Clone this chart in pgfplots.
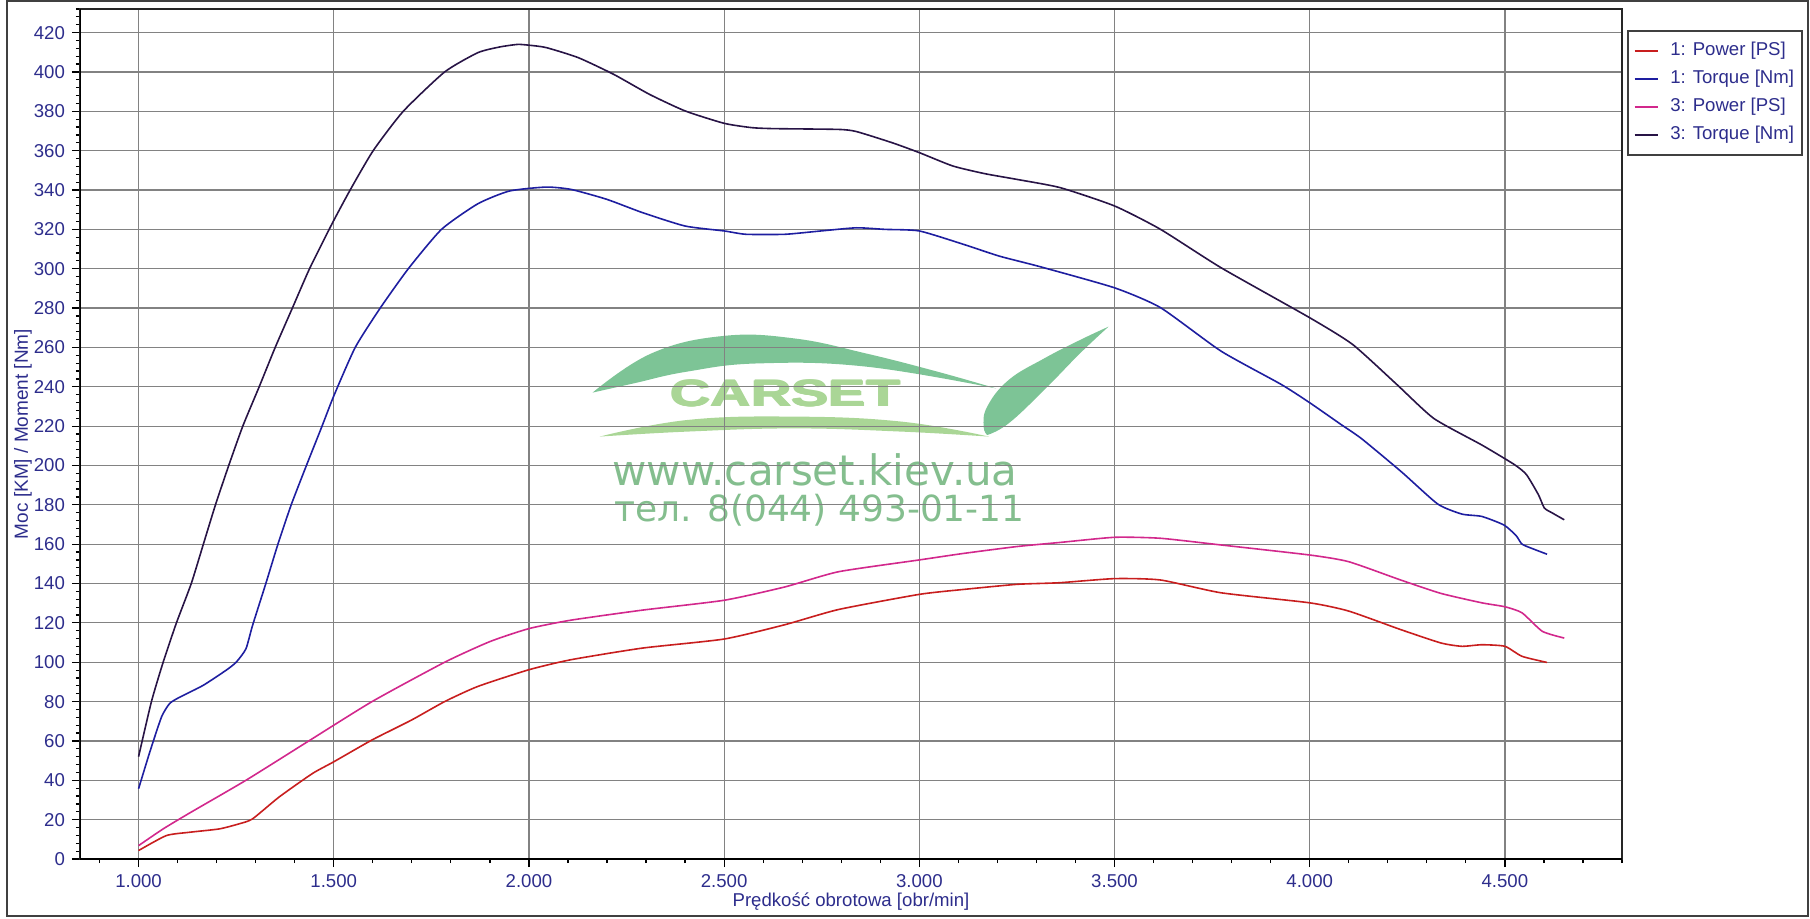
\documentclass[border=0pt]{standalone}
\usepackage{fontspec}
\setmainfont{Liberation Sans}
\newfontfamily\wmfont{DejaVu Sans}
\usepackage{pgfplots}
\pgfplotsset{compat=1.18}

\definecolor{labelblue}{RGB}{45,45,140}
\definecolor{gridgray}{RGB}{130,130,130}
\definecolor{powone}{RGB}{200,30,30}
\definecolor{torone}{RGB}{30,30,160}
\definecolor{powthree}{RGB}{210,40,140}
\definecolor{torthree}{RGB}{40,20,70}
\definecolor{wmgreen}{RGB}{125,196,150}
\definecolor{wmlight}{RGB}{170,214,150}
\definecolor{wmtext}{RGB}{132,190,142}

\begin{document}
\begin{tikzpicture}
% page size and outer frame
\path (-40pt,-29.5pt) rectangle (865pt,429.5pt);
\draw[black!75, line width=0.8pt] (-36.5pt,-28.5pt) rectangle (864pt,429pt);

% watermark, under the grid
\begin{scope}[x=1pt, y=1pt]
\fill[wmgreen] plot[smooth, tension=0.7] coordinates {(256.3,233.2) (285.7,252.8) (321.4,261.5) (357.1,260.3) (392.9,252.8) (428.6,243.7) (458,235.3)}
  -- plot[smooth, tension=0.7] coordinates {(458,235.3) (392.9,246.2) (339.3,247.8) (303.6,243.7) (276.8,237.8) (256.3,233.2)} -- cycle;
\fill[wmgreen] plot[smooth, tension=0.7] coordinates {(453.6,212) (464.3,217.8) (482.1,234.5) (500,252.8) (514.3,266.2)}
  -- plot[smooth, tension=0.7] coordinates {(514.3,266.2) (500,259.5) (482.1,250.3) (464.3,239.5) (453.6,226.2) (451.8,216.2) (453.6,212)} -- cycle;
\fill[wmlight] plot[smooth, tension=0.7] coordinates {(259.8,211.2) (303.6,219.5) (357.1,221.2) (410.7,218.7) (454.5,211.2)}
  -- plot[smooth, tension=0.7] coordinates {(454.5,211.2) (410.7,213.7) (357.1,215.3) (303.6,213.7) (259.8,211.2)} -- cycle;
\foreach \dx/\dy in {-0.5/0, 0.5/0, 0/0.4, 0/-0.4, 0/0}
  \node[anchor=base, xscale=1.5, text=wmlight, font=\fontsize{18.6}{20}\selectfont\bfseries, inner sep=0] at (352.7+\dx,226.5+\dy) {CARSET};
\node[anchor=base, text=wmtext, font=\wmfont\fontsize{21}{24}\selectfont, inner sep=0] at (367.5,187) {www.carset.kiev.ua};
\node[anchor=base, text=wmtext, font=\wmfont\fontsize{18}{21}\selectfont, inner sep=0] at (369.8,169) {тел. 8(044) 493-01-11};
\end{scope}

\begin{axis}[
  at={(0pt,0pt)}, anchor=south west,
  scale only axis, width=771pt, height=425pt,
  xmin=850, xmax=4800, ymin=0, ymax=432,
  xtick={1000,1500,...,4500},
  xticklabels={1.000,1.500,2.000,2.500,3.000,3.500,4.000,4.500},
  minor xtick={900,1000,...,4800},
  ytick={0,20,...,420},
  minor ytick={0,4,...,432},
  tick pos=left, tick align=outside,
  major tick length=4pt, minor tick length=2pt,
  tick style={black, line width=0.6pt},
  grid=major,
  major grid style={gridgray, line width=0.6pt},
  axis line style={black!85, line width=0.8pt},
  /pgf/number format/assume math mode=true,
  ticklabel style={font=\fontsize{9.3}{11}\selectfont, text=labelblue},
  xlabel={Prędkość obrotowa [obr/min]},
  ylabel={Moc [KM] / Moment [Nm]},
  xlabel style={at={(axis description cs:0.5,-0.0506)}, anchor=center, font=\fontsize{9.3}{11}\selectfont, text=labelblue},
  ylabel style={at={(axis description cs:-0.0370,0.5)}, anchor=center, font=\fontsize{9.5}{11}\selectfont, text=labelblue},
  legend style={at={(axis description cs:1.0032,0.9753)}, anchor=north west,
    draw=black!75, line width=0.8pt, fill=white,
    inner xsep=3pt, inner ysep=4.5pt, row sep=3pt,
    nodes={inner sep=1pt, text height=7pt, text depth=2pt, text=labelblue, font=\fontsize{9.3}{11}\selectfont},
    /tikz/every odd column/.append style={column sep=5pt}},
  legend cell align=left,
  legend image code/.code={\draw[#1] (0pt,0pt) -- (11.5pt,0pt);},
  every axis plot/.append style={line width=0.8pt, line join=round, smooth, tension=0.35},
]

\addplot[powone] coordinates {
(1000,4.3) (1071,11.9) (1131,13.6) (1207,15.3) (1258,17.9) (1292,20.4) (1360,31.5)
(1445,43.4) (1500,49.4) (1598,60.5) (1699,70.6) (1784,80) (1869,87.7) (2000,96.2)
(2108,101.3) (2291,107.2) (2500,111.8) (2656,119.1) (2793,126.8) (3000,134.5)
(3113,137) (3250,139.6) (3358,140.4) (3500,142.5) (3618,141.8) (3773,135.3)
(4000,130.2) (4100,126) (4233,116.6) (4336,109.8) (4390,108.1) (4441,108.9)
(4500,108.1) (4544,103) (4608,99.9)
};
\addlegendentry{1: Power [PS]}

\addplot[torone] coordinates {
(1000,35.7) (1029,54.5) (1059,72.3) (1080,79.1) (1105,82.2) (1165,88.2) (1224,95.9)
(1250,100) (1275,106.8) (1292,118.7) (1326,140) (1357,160) (1391,180) (1430,200)
(1470,220) (1500,235.3) (1555,260) (1619,280) (1691,300) (1776,320) (1869,333)
(1950,339.5) (2044,341.5) (2108,340.3) (2199,335.3) (2291,328.5) (2400,321.7)
(2500,319.2) (2556,317.5) (2656,317.5) (2748,319.2) (2839,320.8) (2912,320)
(3000,319.2) (3113,312.4) (3205,306.4) (3310,301) (3500,290.3) (3618,280.2)
(3773,258.1) (3927,241.2) (4000,231.9) (4079,221) (4133,213.6) (4236,196.6)
(4328,180.4) (4390,175.3) (4441,174.1) (4498,169.7) (4529,164.3) (4544,160)
(4575,157.4) (4608,154.9)
};
\addlegendentry{1: Torque [Nm]}

\addplot[powthree] coordinates {
(1000,6.8) (1063,15.3) (1131,23.4) (1275,40) (1436,60) (1598,80) (1784,100)
(1900,110.5) (2000,117.1) (2108,121.4) (2291,126.5) (2500,131.5) (2656,138.3)
(2793,146) (3000,152) (3113,155.3) (3250,158.8) (3361,160.9) (3500,163.5)
(3618,163) (3773,159.6) (4000,154.5) (4100,151.1) (4233,141.8) (4336,135)
(4441,130.2) (4500,128.2) (4544,125.1) (4596,115.7) (4652,112.3)
};
\addlegendentry{3: Power [PS]}

\addplot[torthree] coordinates {
(1000,52) (1033,80) (1063,100) (1097,120) (1135,140) (1166,160) (1197,180)
(1231,200) (1267,220) (1309,240) (1350,260) (1394,280) (1438,300) (1496,323)
(1542,340) (1601,360) (1678,380) (1784,400) (1869,409.8) (1925,412.7) (1971,414)
(2000,413.6) (2044,412.4) (2126,407.3) (2217,398.8) (2309,388.6) (2400,380.2)
(2500,373.9) (2571,371.7) (2629,371.2) (2793,370.8) (2839,369.7) (2931,364)
(3000,359) (3086,352.2) (3168,348.3) (3250,345.4) (3361,341.2) (3500,331.9)
(3618,320) (3773,300.5) (4000,275.1) (4110,261.5) (4223,241.2) (4318,223.9)
(4441,210.4) (4524,200.5) (4555,195.4) (4586,185.1) (4601,178.4) (4622,175.8)
(4652,172.4)
};
\addlegendentry{3: Torque [Nm]}

\draw[black, line width=1.4pt] (rel axis cs:0,1) -- (rel axis cs:0,0) -- (rel axis cs:1,0);
\end{axis}
\end{tikzpicture}
\end{document}
